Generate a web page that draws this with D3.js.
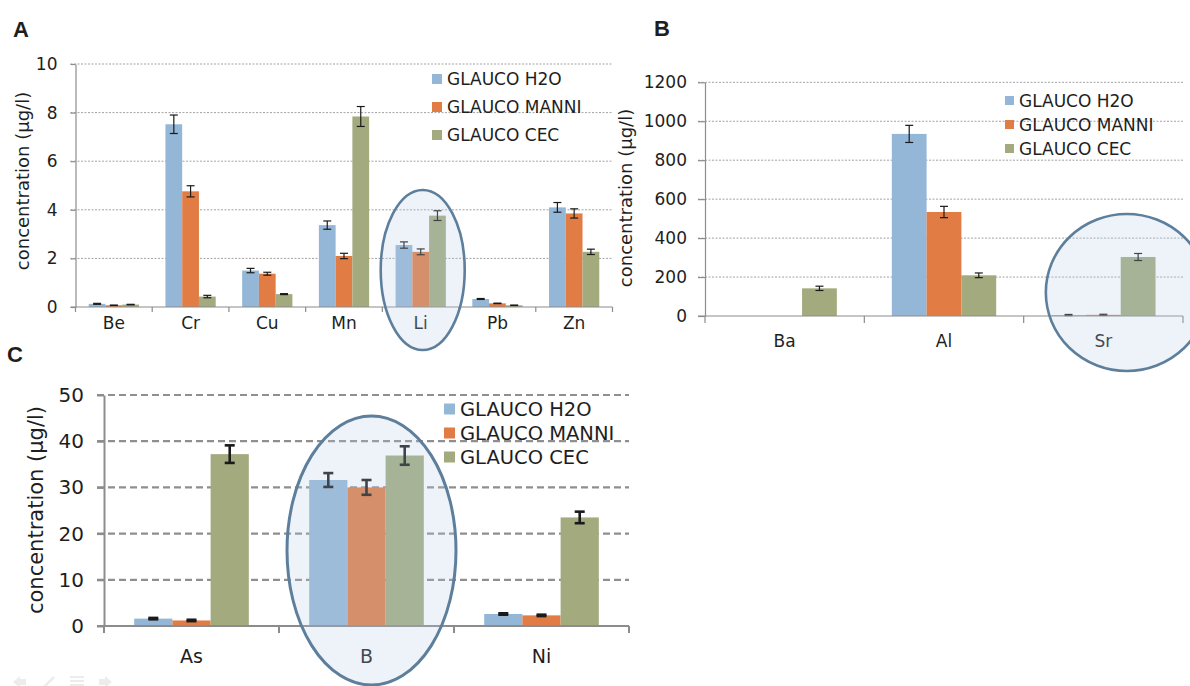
<!DOCTYPE html>
<html><head><meta charset="utf-8">
<script src="https://cdn.jsdelivr.net/npm/d3@7"></script>
<style>
body{margin:0;background:#fff}
svg{display:block}
text{font-family:"DejaVu Sans",sans-serif;fill:#1e1e1e}
</style>
</head><body>
<svg id="chart" width="1190" height="686"></svg>
<script>
// ---------- data ----------
const seriesNames = ["GLAUCO H2O", "GLAUCO MANNI", "GLAUCO CEC"];
const seriesColors = ["#95b7d7", "#e07c44", "#a3ab7e"];

const catsA = ["Be", "Cr", "Cu", "Mn", "Li", "Pb", "Zn"];
const h2oA  = [0.13, 7.52, 1.50, 3.37, 2.55, 0.33, 4.10];
const manA  = [0.07, 4.76, 1.37, 2.10, 2.27, 0.15, 3.85];
const cecA  = [0.10, 0.43, 0.53, 7.84, 3.76, 0.07, 2.27];
const eH2oA = [0.02, 0.38, 0.09, 0.17, 0.13, 0.02, 0.20];
const eManA = [0.01, 0.23, 0.06, 0.11, 0.12, 0.01, 0.19];
const eCecA = [0.01, 0.05, 0.02, 0.41, 0.20, 0.01, 0.11];
const ticksA = [0, 2, 4, 6, 8, 10];

const catsB = ["Ba", "Al", "Sr"];
const h2oB  = [0, 935, 5];
const manB  = [0, 534, 6];
const cecB  = [142, 209, 303];
const eH2oB = [0, 44, 3];
const eManB = [0, 29, 3];
const eCecB = [11, 12, 18];
const ticksB = [0, 200, 400, 600, 800, 1000, 1200];

const catsC = ["As", "B", "Ni"];
const h2oC  = [1.6, 31.6, 2.6];
const manC  = [1.2, 30.0, 2.3];
const cecC  = [37.2, 36.9, 23.5];
const eH2oC = [0.15, 1.5, 0.15];
const eManC = [0.15, 1.6, 0.15];
const eCecC = [1.9, 2.0, 1.25];
const ticksC = [0, 10, 20, 30, 40, 50];

const yTitle = "concentration (µg/l)";

// ---------- drawing ----------
const svg = d3.select("#chart");

function panel(cfg) {
  const g = svg.append("g");
  const x = d3.scaleBand().domain(cfg.cats).range([cfg.x0, cfg.x1]);
  const xs = d3.scaleBand().domain(seriesNames).range([0, x.bandwidth()])
    .paddingInner(0).paddingOuter(0.79);
  const y = d3.scaleLinear().domain([0, cfg.ymax]).range([cfg.yb, cfg.yt]);

  // gridlines
  g.append("g").selectAll("line").data(cfg.ticks.filter(t => t > 0)).join("line")
    .attr("x1", cfg.x0 - cfg.tick).attr("x2", cfg.x1)
    .attr("y1", d => y(d)).attr("y2", d => y(d))
    .attr("stroke", cfg.gridColor).attr("stroke-width", cfg.gridW)
    .attr("stroke-dasharray", cfg.gridDash);

  // y axis
  const ya = g.append("g").attr("transform", `translate(${cfg.x0},0)`)
    .call(d3.axisLeft(y).tickValues(cfg.ticks).tickFormat(d3.format("d"))
      .tickSize(cfg.tick).tickSizeOuter(0).tickPadding(cfg.tickPad));
  ya.select(".domain").attr("stroke", cfg.axisColor).attr("stroke-width", cfg.axisW);
  ya.selectAll(".tick line").attr("stroke", cfg.axisColor).attr("stroke-width", cfg.axisW);
  ya.selectAll(".tick text").style("font-size", cfg.tickFont + "px")
    .style("font-family", '"DejaVu Sans",sans-serif').attr("fill", "#1e1e1e");

  // bars
  const rows = cfg.cats.map((c, i) => seriesNames.map((s, k) => ({
    cat: c, s, k, v: cfg.vals[k][i], e: cfg.errs[k][i]
  })));
  const flat = rows.flat();
  g.append("g").selectAll("rect").data(flat.filter(d => d.v > 0)).join("rect")
    .attr("x", d => x(d.cat) + xs(d.s))
    .attr("width", xs.bandwidth())
    .attr("y", d => y(d.v))
    .attr("height", d => y(0) - y(d.v))
    .attr("fill", d => seriesColors[d.k]);

  // error bars
  const eb = g.append("g").attr("stroke", "#1a1a1a").attr("stroke-width", cfg.errW);
  flat.filter(d => d.v > 0 && d.e > 0).forEach(d => {
    const cx = x(d.cat) + xs(d.s) + xs.bandwidth() / 2;
    const hw = cfg.cap / 2;
    eb.append("line").attr("x1", cx).attr("x2", cx).attr("y1", y(d.v + d.e)).attr("y2", y(d.v - d.e));
    eb.append("line").attr("x1", cx - hw).attr("x2", cx + hw).attr("y1", y(d.v + d.e)).attr("y2", y(d.v + d.e));
    eb.append("line").attr("x1", cx - hw).attr("x2", cx + hw).attr("y1", y(d.v - d.e)).attr("y2", y(d.v - d.e));
  });

  // x axis
  g.append("line").attr("x1", cfg.x0 - cfg.tick).attr("x2", cfg.x1)
    .attr("y1", y(0)).attr("y2", y(0)).attr("stroke", cfg.axisColor).attr("stroke-width", cfg.axisW);
  const bounds = cfg.cats.map(c => x(c)).concat([cfg.x1]);
  g.append("g").selectAll("line").data(bounds).join("line")
    .attr("x1", d => d).attr("x2", d => d).attr("y1", y(0)).attr("y2", y(0) + cfg.tick)
    .attr("stroke", cfg.axisColor).attr("stroke-width", cfg.axisW);
  g.append("g").selectAll("text").data(cfg.cats).join("text")
    .attr("x", d => x(d) + x.bandwidth() / 2).attr("y", cfg.catY)
    .attr("text-anchor", "middle").style("font-size", cfg.catFont + "px").text(d => d);

  // y title
  g.append("text").attr("transform", `translate(${cfg.titleX},${cfg.titleY}) rotate(-90)`)
    .attr("text-anchor", "middle").style("font-size", cfg.titleFont + "px").text(yTitle);

  // legend
  const lg = g.append("g");
  seriesNames.forEach((s, k) => {
    const ly = cfg.legY + k * cfg.legGap;
    lg.append("rect").attr("x", cfg.legX).attr("y", ly - cfg.legSq / 2)
      .attr("width", cfg.legSq).attr("height", cfg.legSq).attr("fill", seriesColors[k]);
    lg.append("text").attr("x", cfg.legX + cfg.legSq + 5).attr("y", ly)
      .attr("dy", "0.36em").style("font-size", cfg.legFont + "px").text(s);
  });

  // highlight ellipse (annotation)
  const hc = cfg.highlight;
  g.append("ellipse")
    .attr("cx", x(hc.cat) + x.bandwidth() / 2 + hc.dx).attr("cy", hc.cy)
    .attr("rx", hc.rx).attr("ry", hc.ry)
    .attr("fill", "#b4cde6").attr("fill-opacity", 0.24)
    .attr("stroke", "#5d7f9c").attr("stroke-width", hc.sw);

  // panel letter
  svg.append("text").attr("x", cfg.letterX).attr("y", cfg.letterY)
    .style("font-family", '"Liberation Sans",Arial,sans-serif').style("font-weight", "bold")
    .style("font-size", "22px").attr("fill", "#000").text(cfg.letter);
}

panel({
  letter: "A", letterX: 13, letterY: 37,
  cats: catsA, vals: [h2oA, manA, cecA], errs: [eH2oA, eManA, eCecA],
  ticks: ticksA, ymax: 10,
  x0: 75.5, x1: 612.5, yb: 307, yt: 64,
  tick: 5, tickPad: 13, tickFont: 17, catFont: 17, catY: 329,
  gridColor: "#a3a3a3", gridW: 1, gridDash: "2,1.5",
  axisColor: "#8c8c8c", axisW: 1.2, errW: 1.2, cap: 8,
  titleX: 29, titleY: 181, titleFont: 18,
  legX: 432, legY: 79, legGap: 28, legSq: 10, legFont: 17,
  highlight: {cat: "Li", dx: 2, cy: 270, rx: 42, ry: 80, sw: 2.6}
});

panel({
  letter: "B", letterX: 654, letterY: 36,
  cats: catsB, vals: [h2oB, manB, cecB], errs: [eH2oB, eManB, eCecB],
  ticks: ticksB, ymax: 1200,
  x0: 705, x1: 1183, yb: 316, yt: 82.3,
  tick: 7, tickPad: 11, tickFont: 17, catFont: 17, catY: 347,
  gridColor: "#a3a3a3", gridW: 1, gridDash: "2,1.5",
  axisColor: "#8c8c8c", axisW: 1.2, errW: 1.2, cap: 8,
  titleX: 632, titleY: 198, titleFont: 18,
  legX: 1005, legY: 100.5, legGap: 24, legSq: 9, legFont: 17,
  highlight: {cat: "Sr", dx: 23.5, cy: 292.5, rx: 81, ry: 78.5, sw: 2.6}
});

panel({
  letter: "C", letterX: 7, letterY: 362,
  cats: catsC, vals: [h2oC, manC, cecC], errs: [eH2oC, eManC, eCecC],
  ticks: ticksC, ymax: 50,
  x0: 104, x1: 629, yb: 626, yt: 395,
  tick: 7, tickPad: 13, tickFont: 20, catFont: 19, catY: 663,
  gridColor: "#8f8f8f", gridW: 2.2, gridDash: "7,4",
  axisColor: "#8c8c8c", axisW: 2, errW: 2.6, cap: 10,
  titleX: 43, titleY: 510, titleFont: 21,
  legX: 444, legY: 409, legGap: 24, legSq: 11, legFont: 19.5,
  highlight: {cat: "B", dx: 5, cy: 550.5, rx: 84.5, ry: 134.5, sw: 3}
});

// faint slideshow controls (bottom-left)
const ic = svg.append("g").attr("fill", "#ececec").attr("stroke", "#ececec");
ic.append("path").attr("d", "M13,682 L20,676 L20,679 L26,679 L26,685 L20,685 L20,688 Z").attr("stroke", "none");
ic.append("path").attr("d", "M44,687 L54,677").attr("stroke-width", 2.5).attr("fill", "none");
ic.append("path").attr("d", "M70,677 H84 M70,681 H84 M70,685 H84").attr("stroke-width", 2).attr("fill", "none");
ic.append("path").attr("d", "M112,682 L105,676 L105,679 L99,679 L99,685 L105,685 L105,688 Z").attr("stroke", "none");
</script>
</body></html>
